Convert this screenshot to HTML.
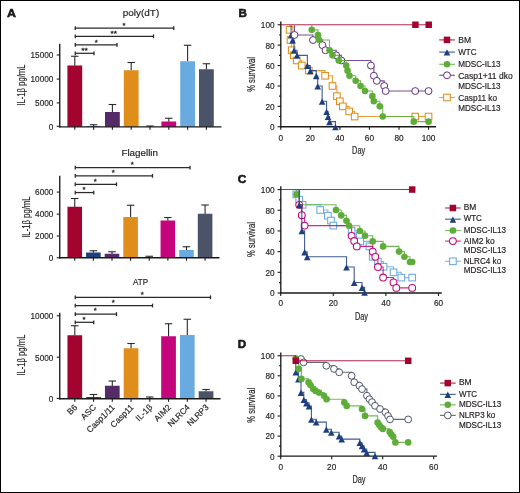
<!DOCTYPE html>
<html lang="en">
<head>
<meta charset="utf-8">
<title>Figure</title>
<style>
html,body{margin:0;padding:0;background:#fff;}
body{width:520px;height:493px;overflow:hidden;font-family:'Liberation Sans', Arial, sans-serif;}
svg{display:block;position:absolute;left:0;top:0;}
svg text{font-family:'Liberation Sans', Arial, sans-serif;fill:#231f20;}
</style>
</head>
<body>
<svg width="520" height="493" viewBox="0 0 520 493" role="img" aria-label="Figure panels A to D">
<rect x="0" y="0" width="520" height="493" fill="#fff"/>
<line x1="74.80" y1="56.25" x2="74.80" y2="65.80" stroke="#2a2a2c" stroke-width="1.1"/>
<line x1="71.05" y1="56.25" x2="78.55" y2="56.25" stroke="#2a2a2c" stroke-width="1.1"/>
<rect x="67.40" y="65.50" width="14.80" height="61.30" fill="#a3042f"/>
<line x1="93.60" y1="124.75" x2="93.60" y2="126.50" stroke="#2a2a2c" stroke-width="1.1"/>
<line x1="89.85" y1="124.75" x2="97.35" y2="124.75" stroke="#2a2a2c" stroke-width="1.1"/>
<rect x="86.20" y="126.20" width="14.80" height="0.60" fill="#1e3f7f"/>
<line x1="112.40" y1="104.50" x2="112.40" y2="112.30" stroke="#2a2a2c" stroke-width="1.1"/>
<line x1="108.65" y1="104.50" x2="116.15" y2="104.50" stroke="#2a2a2c" stroke-width="1.1"/>
<rect x="105.00" y="112.00" width="14.80" height="14.80" fill="#562a66"/>
<line x1="131.20" y1="62.50" x2="131.20" y2="70.55" stroke="#2a2a2c" stroke-width="1.1"/>
<line x1="127.45" y1="62.50" x2="134.95" y2="62.50" stroke="#2a2a2c" stroke-width="1.1"/>
<rect x="123.80" y="70.25" width="14.80" height="56.55" fill="#e08e1b"/>
<line x1="150.00" y1="126.00" x2="150.00" y2="127.10" stroke="#2a2a2c" stroke-width="1.1"/>
<line x1="146.25" y1="126.00" x2="153.75" y2="126.00" stroke="#2a2a2c" stroke-width="1.1"/>
<line x1="168.80" y1="118.25" x2="168.80" y2="121.80" stroke="#2a2a2c" stroke-width="1.1"/>
<line x1="165.05" y1="118.25" x2="172.55" y2="118.25" stroke="#2a2a2c" stroke-width="1.1"/>
<rect x="161.40" y="121.50" width="14.80" height="5.30" fill="#c5057b"/>
<line x1="187.60" y1="45.25" x2="187.60" y2="61.55" stroke="#2a2a2c" stroke-width="1.1"/>
<line x1="183.85" y1="45.25" x2="191.35" y2="45.25" stroke="#2a2a2c" stroke-width="1.1"/>
<rect x="180.20" y="61.25" width="14.80" height="65.55" fill="#69aae0"/>
<line x1="206.40" y1="63.75" x2="206.40" y2="69.55" stroke="#2a2a2c" stroke-width="1.1"/>
<line x1="202.65" y1="63.75" x2="210.15" y2="63.75" stroke="#2a2a2c" stroke-width="1.1"/>
<rect x="199.00" y="69.25" width="14.80" height="57.55" fill="#4b5368"/>
<line x1="59.75" y1="43.75" x2="59.75" y2="127.45" stroke="#1a1a1a" stroke-width="1.35"/>
<line x1="59.10" y1="126.80" x2="221.50" y2="126.80" stroke="#1a1a1a" stroke-width="1.3"/>
<line x1="74.80" y1="126.80" x2="74.80" y2="129.80" stroke="#1a1a1a" stroke-width="1.1"/>
<line x1="93.60" y1="126.80" x2="93.60" y2="129.80" stroke="#1a1a1a" stroke-width="1.1"/>
<line x1="112.40" y1="126.80" x2="112.40" y2="129.80" stroke="#1a1a1a" stroke-width="1.1"/>
<line x1="131.20" y1="126.80" x2="131.20" y2="129.80" stroke="#1a1a1a" stroke-width="1.1"/>
<line x1="150.00" y1="126.80" x2="150.00" y2="129.80" stroke="#1a1a1a" stroke-width="1.1"/>
<line x1="168.80" y1="126.80" x2="168.80" y2="129.80" stroke="#1a1a1a" stroke-width="1.1"/>
<line x1="187.60" y1="126.80" x2="187.60" y2="129.80" stroke="#1a1a1a" stroke-width="1.1"/>
<line x1="206.40" y1="126.80" x2="206.40" y2="129.80" stroke="#1a1a1a" stroke-width="1.1"/>
<line x1="56.75" y1="55.00" x2="59.75" y2="55.00" stroke="#1a1a1a" stroke-width="1.1"/>
<text x="53.45" y="58.35" font-size="9.5" text-anchor="end" textLength="23.00" lengthAdjust="spacingAndGlyphs" stroke="#231f20" stroke-width="0.18">15000</text>
<line x1="56.75" y1="79.10" x2="59.75" y2="79.10" stroke="#1a1a1a" stroke-width="1.1"/>
<text x="53.45" y="82.45" font-size="9.5" text-anchor="end" textLength="23.00" lengthAdjust="spacingAndGlyphs" stroke="#231f20" stroke-width="0.18">10000</text>
<line x1="56.75" y1="102.90" x2="59.75" y2="102.90" stroke="#1a1a1a" stroke-width="1.1"/>
<text x="53.45" y="106.25" font-size="9.5" text-anchor="end" textLength="18.40" lengthAdjust="spacingAndGlyphs" stroke="#231f20" stroke-width="0.18">5000</text>
<line x1="56.75" y1="126.30" x2="59.75" y2="126.30" stroke="#1a1a1a" stroke-width="1.1"/>
<text x="53.45" y="129.65" font-size="9.5" text-anchor="end" textLength="4.60" lengthAdjust="spacingAndGlyphs" stroke="#231f20" stroke-width="0.18">0</text>
<text x="141.00" y="15.90" font-size="9.7" text-anchor="middle" textLength="36.40" lengthAdjust="spacingAndGlyphs" stroke="#231f20" stroke-width="0.18">poly(dT)</text>
<text x="25.10" y="85.10" font-size="10" text-anchor="middle" textLength="41.20" lengthAdjust="spacingAndGlyphs" transform="rotate(-90 25.10 85.10)" stroke="#231f20" stroke-width="0.18">IL-1β pg/mL</text>
<line x1="75.25" y1="28.05" x2="173.75" y2="28.05" stroke="#2a2a2c" stroke-width="1.25"/>
<line x1="75.25" y1="26.15" x2="75.25" y2="29.95" stroke="#2a2a2c" stroke-width="1.3"/>
<line x1="173.75" y1="26.15" x2="173.75" y2="29.95" stroke="#2a2a2c" stroke-width="1.3"/>
<line x1="75.25" y1="36.30" x2="153.50" y2="36.30" stroke="#2a2a2c" stroke-width="1.25"/>
<line x1="75.25" y1="34.40" x2="75.25" y2="38.20" stroke="#2a2a2c" stroke-width="1.3"/>
<line x1="153.50" y1="34.40" x2="153.50" y2="38.20" stroke="#2a2a2c" stroke-width="1.3"/>
<line x1="75.25" y1="44.80" x2="117.00" y2="44.80" stroke="#2a2a2c" stroke-width="1.25"/>
<line x1="75.25" y1="42.90" x2="75.25" y2="46.70" stroke="#2a2a2c" stroke-width="1.3"/>
<line x1="117.00" y1="42.90" x2="117.00" y2="46.70" stroke="#2a2a2c" stroke-width="1.3"/>
<line x1="75.25" y1="53.30" x2="94.00" y2="53.30" stroke="#2a2a2c" stroke-width="1.25"/>
<line x1="75.25" y1="51.40" x2="75.25" y2="55.20" stroke="#2a2a2c" stroke-width="1.3"/>
<line x1="94.00" y1="51.40" x2="94.00" y2="55.20" stroke="#2a2a2c" stroke-width="1.3"/>
<text x="124.05" y="28.15" font-size="7.8" text-anchor="middle" stroke="#231f20" stroke-width="0.3">*</text>
<text x="113.80" y="36.40" font-size="7.8" text-anchor="middle" textLength="6.60" lengthAdjust="spacingAndGlyphs" stroke="#231f20" stroke-width="0.3">**</text>
<text x="96.30" y="44.65" font-size="7.8" text-anchor="middle" stroke="#231f20" stroke-width="0.3">*</text>
<text x="84.55" y="53.15" font-size="7.8" text-anchor="middle" textLength="6.60" lengthAdjust="spacingAndGlyphs" stroke="#231f20" stroke-width="0.3">**</text>
<line x1="74.75" y1="198.50" x2="74.75" y2="207.05" stroke="#2a2a2c" stroke-width="1.1"/>
<line x1="71.00" y1="198.50" x2="78.50" y2="198.50" stroke="#2a2a2c" stroke-width="1.1"/>
<rect x="67.45" y="206.75" width="14.60" height="51.00" fill="#a3042f"/>
<line x1="93.37" y1="250.75" x2="93.37" y2="252.80" stroke="#2a2a2c" stroke-width="1.1"/>
<line x1="89.62" y1="250.75" x2="97.12" y2="250.75" stroke="#2a2a2c" stroke-width="1.1"/>
<rect x="86.07" y="252.50" width="14.60" height="5.25" fill="#1e3f7f"/>
<line x1="111.99" y1="251.75" x2="111.99" y2="254.05" stroke="#2a2a2c" stroke-width="1.1"/>
<line x1="108.24" y1="251.75" x2="115.74" y2="251.75" stroke="#2a2a2c" stroke-width="1.1"/>
<rect x="104.69" y="253.75" width="14.60" height="4.00" fill="#562a66"/>
<line x1="130.61" y1="205.25" x2="130.61" y2="217.30" stroke="#2a2a2c" stroke-width="1.1"/>
<line x1="126.86" y1="205.25" x2="134.36" y2="205.25" stroke="#2a2a2c" stroke-width="1.1"/>
<rect x="123.31" y="217.00" width="14.60" height="40.75" fill="#e08e1b"/>
<line x1="149.23" y1="256.25" x2="149.23" y2="257.90" stroke="#2a2a2c" stroke-width="1.1"/>
<line x1="145.48" y1="256.25" x2="152.98" y2="256.25" stroke="#2a2a2c" stroke-width="1.1"/>
<line x1="167.85" y1="217.50" x2="167.85" y2="220.80" stroke="#2a2a2c" stroke-width="1.1"/>
<line x1="164.10" y1="217.50" x2="171.60" y2="217.50" stroke="#2a2a2c" stroke-width="1.1"/>
<rect x="160.55" y="220.50" width="14.60" height="37.25" fill="#c5057b"/>
<line x1="186.47" y1="246.75" x2="186.47" y2="250.30" stroke="#2a2a2c" stroke-width="1.1"/>
<line x1="182.72" y1="246.75" x2="190.22" y2="246.75" stroke="#2a2a2c" stroke-width="1.1"/>
<rect x="179.17" y="250.00" width="14.60" height="7.75" fill="#69aae0"/>
<line x1="205.09" y1="205.00" x2="205.09" y2="214.05" stroke="#2a2a2c" stroke-width="1.1"/>
<line x1="201.34" y1="205.00" x2="208.84" y2="205.00" stroke="#2a2a2c" stroke-width="1.1"/>
<rect x="197.79" y="213.75" width="14.60" height="44.00" fill="#4b5368"/>
<line x1="59.75" y1="175.75" x2="59.75" y2="258.40" stroke="#1a1a1a" stroke-width="1.35"/>
<line x1="59.10" y1="257.75" x2="219.50" y2="257.75" stroke="#1a1a1a" stroke-width="1.3"/>
<line x1="74.75" y1="257.75" x2="74.75" y2="260.75" stroke="#1a1a1a" stroke-width="1.1"/>
<line x1="93.37" y1="257.75" x2="93.37" y2="260.75" stroke="#1a1a1a" stroke-width="1.1"/>
<line x1="111.99" y1="257.75" x2="111.99" y2="260.75" stroke="#1a1a1a" stroke-width="1.1"/>
<line x1="130.61" y1="257.75" x2="130.61" y2="260.75" stroke="#1a1a1a" stroke-width="1.1"/>
<line x1="149.23" y1="257.75" x2="149.23" y2="260.75" stroke="#1a1a1a" stroke-width="1.1"/>
<line x1="167.85" y1="257.75" x2="167.85" y2="260.75" stroke="#1a1a1a" stroke-width="1.1"/>
<line x1="186.47" y1="257.75" x2="186.47" y2="260.75" stroke="#1a1a1a" stroke-width="1.1"/>
<line x1="205.09" y1="257.75" x2="205.09" y2="260.75" stroke="#1a1a1a" stroke-width="1.1"/>
<line x1="56.75" y1="192.10" x2="59.75" y2="192.10" stroke="#1a1a1a" stroke-width="1.1"/>
<text x="53.45" y="195.45" font-size="9.5" text-anchor="end" textLength="18.40" lengthAdjust="spacingAndGlyphs" stroke="#231f20" stroke-width="0.18">6000</text>
<line x1="56.75" y1="214.10" x2="59.75" y2="214.10" stroke="#1a1a1a" stroke-width="1.1"/>
<text x="53.45" y="217.45" font-size="9.5" text-anchor="end" textLength="18.40" lengthAdjust="spacingAndGlyphs" stroke="#231f20" stroke-width="0.18">4000</text>
<line x1="56.75" y1="236.00" x2="59.75" y2="236.00" stroke="#1a1a1a" stroke-width="1.1"/>
<text x="53.45" y="239.35" font-size="9.5" text-anchor="end" textLength="18.40" lengthAdjust="spacingAndGlyphs" stroke="#231f20" stroke-width="0.18">2000</text>
<line x1="56.75" y1="257.80" x2="59.75" y2="257.80" stroke="#1a1a1a" stroke-width="1.1"/>
<text x="53.45" y="261.15" font-size="9.5" text-anchor="end" textLength="4.60" lengthAdjust="spacingAndGlyphs" stroke="#231f20" stroke-width="0.18">0</text>
<text x="139.70" y="155.50" font-size="9.7" text-anchor="middle" textLength="36.60" lengthAdjust="spacingAndGlyphs" stroke="#231f20" stroke-width="0.18">Flagellin</text>
<text x="30.30" y="217.10" font-size="10" text-anchor="middle" textLength="41.40" lengthAdjust="spacingAndGlyphs" transform="rotate(-90 30.30 217.10)" stroke="#231f20" stroke-width="0.18">IL-1β pg/mL</text>
<line x1="75.25" y1="167.55" x2="190.00" y2="167.55" stroke="#2a2a2c" stroke-width="1.25"/>
<line x1="75.25" y1="165.65" x2="75.25" y2="169.45" stroke="#2a2a2c" stroke-width="1.3"/>
<line x1="190.00" y1="165.65" x2="190.00" y2="169.45" stroke="#2a2a2c" stroke-width="1.3"/>
<line x1="75.25" y1="175.80" x2="152.50" y2="175.80" stroke="#2a2a2c" stroke-width="1.25"/>
<line x1="75.25" y1="173.90" x2="75.25" y2="177.70" stroke="#2a2a2c" stroke-width="1.3"/>
<line x1="152.50" y1="173.90" x2="152.50" y2="177.70" stroke="#2a2a2c" stroke-width="1.3"/>
<line x1="75.25" y1="184.30" x2="116.50" y2="184.30" stroke="#2a2a2c" stroke-width="1.25"/>
<line x1="75.25" y1="182.40" x2="75.25" y2="186.20" stroke="#2a2a2c" stroke-width="1.3"/>
<line x1="116.50" y1="182.40" x2="116.50" y2="186.20" stroke="#2a2a2c" stroke-width="1.3"/>
<line x1="75.25" y1="192.55" x2="93.75" y2="192.55" stroke="#2a2a2c" stroke-width="1.25"/>
<line x1="75.25" y1="190.65" x2="75.25" y2="194.45" stroke="#2a2a2c" stroke-width="1.3"/>
<line x1="93.75" y1="190.65" x2="93.75" y2="194.45" stroke="#2a2a2c" stroke-width="1.3"/>
<text x="132.30" y="167.40" font-size="7.8" text-anchor="middle" stroke="#231f20" stroke-width="0.3">*</text>
<text x="113.30" y="175.40" font-size="7.8" text-anchor="middle" stroke="#231f20" stroke-width="0.3">*</text>
<text x="95.30" y="183.65" font-size="7.8" text-anchor="middle" stroke="#231f20" stroke-width="0.3">*</text>
<text x="84.05" y="192.15" font-size="7.8" text-anchor="middle" stroke="#231f20" stroke-width="0.3">*</text>
<line x1="74.80" y1="325.75" x2="74.80" y2="335.55" stroke="#2a2a2c" stroke-width="1.1"/>
<line x1="71.05" y1="325.75" x2="78.55" y2="325.75" stroke="#2a2a2c" stroke-width="1.1"/>
<rect x="67.45" y="335.25" width="14.70" height="63.50" fill="#a3042f"/>
<line x1="93.55" y1="394.50" x2="93.55" y2="397.30" stroke="#2a2a2c" stroke-width="1.1"/>
<line x1="89.80" y1="394.50" x2="97.30" y2="394.50" stroke="#2a2a2c" stroke-width="1.1"/>
<rect x="86.20" y="397.00" width="14.70" height="1.75" fill="#1e3f7f"/>
<line x1="112.30" y1="381.00" x2="112.30" y2="386.05" stroke="#2a2a2c" stroke-width="1.1"/>
<line x1="108.55" y1="381.00" x2="116.05" y2="381.00" stroke="#2a2a2c" stroke-width="1.1"/>
<rect x="104.95" y="385.75" width="14.70" height="13.00" fill="#562a66"/>
<line x1="131.05" y1="343.50" x2="131.05" y2="348.55" stroke="#2a2a2c" stroke-width="1.1"/>
<line x1="127.30" y1="343.50" x2="134.80" y2="343.50" stroke="#2a2a2c" stroke-width="1.1"/>
<rect x="123.70" y="348.25" width="14.70" height="50.50" fill="#e08e1b"/>
<line x1="149.80" y1="397.00" x2="149.80" y2="398.90" stroke="#2a2a2c" stroke-width="1.1"/>
<line x1="146.05" y1="397.00" x2="153.55" y2="397.00" stroke="#2a2a2c" stroke-width="1.1"/>
<line x1="168.55" y1="323.75" x2="168.55" y2="336.55" stroke="#2a2a2c" stroke-width="1.1"/>
<line x1="164.80" y1="323.75" x2="172.30" y2="323.75" stroke="#2a2a2c" stroke-width="1.1"/>
<rect x="161.20" y="336.25" width="14.70" height="62.50" fill="#c5057b"/>
<line x1="187.30" y1="319.25" x2="187.30" y2="335.30" stroke="#2a2a2c" stroke-width="1.1"/>
<line x1="183.55" y1="319.25" x2="191.05" y2="319.25" stroke="#2a2a2c" stroke-width="1.1"/>
<rect x="179.95" y="335.00" width="14.70" height="63.75" fill="#69aae0"/>
<line x1="206.05" y1="389.50" x2="206.05" y2="391.55" stroke="#2a2a2c" stroke-width="1.1"/>
<line x1="202.30" y1="389.50" x2="209.80" y2="389.50" stroke="#2a2a2c" stroke-width="1.1"/>
<rect x="198.70" y="391.25" width="14.70" height="7.50" fill="#4b5368"/>
<line x1="59.75" y1="312.80" x2="59.75" y2="399.40" stroke="#1a1a1a" stroke-width="1.35"/>
<line x1="59.10" y1="398.75" x2="220.50" y2="398.75" stroke="#1a1a1a" stroke-width="1.3"/>
<line x1="74.80" y1="398.75" x2="74.80" y2="401.75" stroke="#1a1a1a" stroke-width="1.1"/>
<line x1="93.55" y1="398.75" x2="93.55" y2="401.75" stroke="#1a1a1a" stroke-width="1.1"/>
<line x1="112.30" y1="398.75" x2="112.30" y2="401.75" stroke="#1a1a1a" stroke-width="1.1"/>
<line x1="131.05" y1="398.75" x2="131.05" y2="401.75" stroke="#1a1a1a" stroke-width="1.1"/>
<line x1="149.80" y1="398.75" x2="149.80" y2="401.75" stroke="#1a1a1a" stroke-width="1.1"/>
<line x1="168.55" y1="398.75" x2="168.55" y2="401.75" stroke="#1a1a1a" stroke-width="1.1"/>
<line x1="187.30" y1="398.75" x2="187.30" y2="401.75" stroke="#1a1a1a" stroke-width="1.1"/>
<line x1="206.05" y1="398.75" x2="206.05" y2="401.75" stroke="#1a1a1a" stroke-width="1.1"/>
<line x1="56.75" y1="315.80" x2="59.75" y2="315.80" stroke="#1a1a1a" stroke-width="1.1"/>
<text x="53.45" y="319.15" font-size="9.5" text-anchor="end" textLength="23.00" lengthAdjust="spacingAndGlyphs" stroke="#231f20" stroke-width="0.18">10000</text>
<line x1="56.75" y1="357.20" x2="59.75" y2="357.20" stroke="#1a1a1a" stroke-width="1.1"/>
<text x="53.45" y="360.55" font-size="9.5" text-anchor="end" textLength="18.40" lengthAdjust="spacingAndGlyphs" stroke="#231f20" stroke-width="0.18">5000</text>
<line x1="56.75" y1="398.40" x2="59.75" y2="398.40" stroke="#1a1a1a" stroke-width="1.1"/>
<text x="53.45" y="401.75" font-size="9.5" text-anchor="end" textLength="4.60" lengthAdjust="spacingAndGlyphs" stroke="#231f20" stroke-width="0.18">0</text>
<text x="140.60" y="284.90" font-size="9.4" text-anchor="middle" textLength="15.00" lengthAdjust="spacingAndGlyphs" stroke="#231f20" stroke-width="0.18">ATP</text>
<text x="25.20" y="355.10" font-size="10" text-anchor="middle" textLength="41.00" lengthAdjust="spacingAndGlyphs" transform="rotate(-90 25.20 355.10)" stroke="#231f20" stroke-width="0.18">IL-1β pg/mL</text>
<line x1="75.25" y1="297.30" x2="210.50" y2="297.30" stroke="#2a2a2c" stroke-width="1.25"/>
<line x1="75.25" y1="295.40" x2="75.25" y2="299.20" stroke="#2a2a2c" stroke-width="1.3"/>
<line x1="210.50" y1="295.40" x2="210.50" y2="299.20" stroke="#2a2a2c" stroke-width="1.3"/>
<line x1="75.25" y1="305.55" x2="152.50" y2="305.55" stroke="#2a2a2c" stroke-width="1.25"/>
<line x1="75.25" y1="303.65" x2="75.25" y2="307.45" stroke="#2a2a2c" stroke-width="1.3"/>
<line x1="152.50" y1="303.65" x2="152.50" y2="307.45" stroke="#2a2a2c" stroke-width="1.3"/>
<line x1="75.25" y1="314.05" x2="116.50" y2="314.05" stroke="#2a2a2c" stroke-width="1.25"/>
<line x1="75.25" y1="312.15" x2="75.25" y2="315.95" stroke="#2a2a2c" stroke-width="1.3"/>
<line x1="116.50" y1="312.15" x2="116.50" y2="315.95" stroke="#2a2a2c" stroke-width="1.3"/>
<line x1="75.25" y1="322.30" x2="93.75" y2="322.30" stroke="#2a2a2c" stroke-width="1.25"/>
<line x1="75.25" y1="320.40" x2="75.25" y2="324.20" stroke="#2a2a2c" stroke-width="1.3"/>
<line x1="93.75" y1="320.40" x2="93.75" y2="324.20" stroke="#2a2a2c" stroke-width="1.3"/>
<text x="142.30" y="296.90" font-size="7.8" text-anchor="middle" stroke="#231f20" stroke-width="0.3">*</text>
<text x="113.30" y="305.15" font-size="7.8" text-anchor="middle" stroke="#231f20" stroke-width="0.3">*</text>
<text x="95.30" y="313.40" font-size="7.8" text-anchor="middle" stroke="#231f20" stroke-width="0.3">*</text>
<text x="84.05" y="321.90" font-size="7.8" text-anchor="middle" stroke="#231f20" stroke-width="0.3">*</text>
<text x="77.90" y="407.90" font-size="8.5" text-anchor="end" transform="rotate(-45 77.90 407.90)" stroke="#231f20" stroke-width="0.18">B6</text>
<text x="96.65" y="407.90" font-size="8.5" text-anchor="end" transform="rotate(-45 96.65 407.90)" stroke="#231f20" stroke-width="0.18">ASC</text>
<text x="115.40" y="407.90" font-size="8.5" text-anchor="end" transform="rotate(-45 115.40 407.90)" stroke="#231f20" stroke-width="0.18">Casp1/11</text>
<text x="134.15" y="407.90" font-size="8.5" text-anchor="end" transform="rotate(-45 134.15 407.90)" stroke="#231f20" stroke-width="0.18">Casp11</text>
<text x="152.90" y="407.90" font-size="8.5" text-anchor="end" transform="rotate(-45 152.90 407.90)" stroke="#231f20" stroke-width="0.18">IL-1β</text>
<text x="171.65" y="407.90" font-size="8.5" text-anchor="end" transform="rotate(-45 171.65 407.90)" stroke="#231f20" stroke-width="0.18">AIM2</text>
<text x="190.40" y="407.90" font-size="8.5" text-anchor="end" textLength="27.20" lengthAdjust="spacingAndGlyphs" transform="rotate(-45 190.40 407.90)" stroke="#231f20" stroke-width="0.18">NLRC4</text>
<text x="209.15" y="407.90" font-size="8.5" text-anchor="end" textLength="26.40" lengthAdjust="spacingAndGlyphs" transform="rotate(-45 209.15 407.90)" stroke="#231f20" stroke-width="0.18">NLRP3</text>
<line x1="280.80" y1="21.45" x2="280.80" y2="127.40" stroke="#1a1a1a" stroke-width="1.35"/>
<line x1="280.15" y1="126.75" x2="436.00" y2="126.75" stroke="#1a1a1a" stroke-width="1.3"/>
<line x1="277.60" y1="24.75" x2="280.80" y2="24.75" stroke="#1a1a1a" stroke-width="1.1"/>
<text x="274.60" y="28.10" font-size="9.5" text-anchor="end" textLength="13.80" lengthAdjust="spacingAndGlyphs" stroke="#231f20" stroke-width="0.18">100</text>
<line x1="279.00" y1="34.95" x2="280.80" y2="34.95" stroke="#1a1a1a" stroke-width="1.1"/>
<line x1="277.60" y1="45.15" x2="280.80" y2="45.15" stroke="#1a1a1a" stroke-width="1.1"/>
<text x="274.60" y="48.50" font-size="9.5" text-anchor="end" textLength="9.20" lengthAdjust="spacingAndGlyphs" stroke="#231f20" stroke-width="0.18">80</text>
<line x1="279.00" y1="55.35" x2="280.80" y2="55.35" stroke="#1a1a1a" stroke-width="1.1"/>
<line x1="277.60" y1="65.55" x2="280.80" y2="65.55" stroke="#1a1a1a" stroke-width="1.1"/>
<text x="274.60" y="68.90" font-size="9.5" text-anchor="end" textLength="9.20" lengthAdjust="spacingAndGlyphs" stroke="#231f20" stroke-width="0.18">60</text>
<line x1="279.00" y1="75.75" x2="280.80" y2="75.75" stroke="#1a1a1a" stroke-width="1.1"/>
<line x1="277.60" y1="85.95" x2="280.80" y2="85.95" stroke="#1a1a1a" stroke-width="1.1"/>
<text x="274.60" y="89.30" font-size="9.5" text-anchor="end" textLength="9.20" lengthAdjust="spacingAndGlyphs" stroke="#231f20" stroke-width="0.18">40</text>
<line x1="279.00" y1="96.15" x2="280.80" y2="96.15" stroke="#1a1a1a" stroke-width="1.1"/>
<line x1="277.60" y1="106.35" x2="280.80" y2="106.35" stroke="#1a1a1a" stroke-width="1.1"/>
<text x="274.60" y="109.70" font-size="9.5" text-anchor="end" textLength="9.20" lengthAdjust="spacingAndGlyphs" stroke="#231f20" stroke-width="0.18">20</text>
<line x1="279.00" y1="116.55" x2="280.80" y2="116.55" stroke="#1a1a1a" stroke-width="1.1"/>
<line x1="277.60" y1="126.75" x2="280.80" y2="126.75" stroke="#1a1a1a" stroke-width="1.1"/>
<text x="274.60" y="130.10" font-size="9.5" text-anchor="end" textLength="4.60" lengthAdjust="spacingAndGlyphs" stroke="#231f20" stroke-width="0.18">0</text>
<line x1="280.75" y1="126.75" x2="280.75" y2="129.75" stroke="#1a1a1a" stroke-width="1.1"/>
<text x="280.75" y="141.15" font-size="9.5" text-anchor="middle" textLength="4.60" lengthAdjust="spacingAndGlyphs" stroke="#231f20" stroke-width="0.18">0</text>
<line x1="310.31" y1="126.75" x2="310.31" y2="129.75" stroke="#1a1a1a" stroke-width="1.1"/>
<text x="310.31" y="141.15" font-size="9.5" text-anchor="middle" textLength="9.20" lengthAdjust="spacingAndGlyphs" stroke="#231f20" stroke-width="0.18">20</text>
<line x1="339.87" y1="126.75" x2="339.87" y2="129.75" stroke="#1a1a1a" stroke-width="1.1"/>
<text x="339.87" y="141.15" font-size="9.5" text-anchor="middle" textLength="9.20" lengthAdjust="spacingAndGlyphs" stroke="#231f20" stroke-width="0.18">40</text>
<line x1="369.43" y1="126.75" x2="369.43" y2="129.75" stroke="#1a1a1a" stroke-width="1.1"/>
<text x="369.43" y="141.15" font-size="9.5" text-anchor="middle" textLength="9.20" lengthAdjust="spacingAndGlyphs" stroke="#231f20" stroke-width="0.18">60</text>
<line x1="398.99" y1="126.75" x2="398.99" y2="129.75" stroke="#1a1a1a" stroke-width="1.1"/>
<text x="398.99" y="141.15" font-size="9.5" text-anchor="middle" textLength="9.20" lengthAdjust="spacingAndGlyphs" stroke="#231f20" stroke-width="0.18">80</text>
<line x1="428.55" y1="126.75" x2="428.55" y2="129.75" stroke="#1a1a1a" stroke-width="1.1"/>
<text x="428.55" y="141.15" font-size="9.5" text-anchor="middle" textLength="13.80" lengthAdjust="spacingAndGlyphs" stroke="#231f20" stroke-width="0.18">100</text>
<text x="255.00" y="74.40" font-size="10" text-anchor="middle" textLength="34.90" lengthAdjust="spacingAndGlyphs" transform="rotate(-90 255.00 74.40)" stroke="#231f20" stroke-width="0.18">% survival</text>
<text x="358.65" y="154.00" font-size="10" text-anchor="middle" textLength="13.10" lengthAdjust="spacingAndGlyphs" stroke="#231f20" stroke-width="0.18">Day</text>
<path d="M289.62 25.15H289.62V29.85H290.50V40.05H291.69V50.25H293.76V55.35H296.71V60.45H301.74V65.55H308.83V70.65H325.09V75.75H332.48V85.95H336.91V96.15H339.87V101.25H342.83V106.35H349.18V111.45H354.65V116.55H415.25V116.55H428.55V116.55" fill="none" stroke="#e08e1b" stroke-width="1.1" stroke-opacity="0.85"/>
<rect x="286.32" y="26.55" width="6.6" height="6.6" fill="#fff" stroke="#e08e1b" stroke-width="1.05"/>
<rect x="287.20" y="36.75" width="6.6" height="6.6" fill="#fff" stroke="#e08e1b" stroke-width="1.05"/>
<rect x="288.39" y="46.95" width="6.6" height="6.6" fill="#fff" stroke="#e08e1b" stroke-width="1.05"/>
<rect x="290.46" y="52.05" width="6.6" height="6.6" fill="#fff" stroke="#e08e1b" stroke-width="1.05"/>
<rect x="293.41" y="57.15" width="6.6" height="6.6" fill="#fff" stroke="#e08e1b" stroke-width="1.05"/>
<rect x="298.44" y="62.25" width="6.6" height="6.6" fill="#fff" stroke="#e08e1b" stroke-width="1.05"/>
<rect x="305.53" y="67.35" width="6.6" height="6.6" fill="#fff" stroke="#e08e1b" stroke-width="1.05"/>
<rect x="321.79" y="72.45" width="6.6" height="6.6" fill="#fff" stroke="#e08e1b" stroke-width="1.05"/>
<rect x="329.18" y="82.65" width="6.6" height="6.6" fill="#fff" stroke="#e08e1b" stroke-width="1.05"/>
<rect x="333.61" y="92.85" width="6.6" height="6.6" fill="#fff" stroke="#e08e1b" stroke-width="1.05"/>
<rect x="336.57" y="97.95" width="6.6" height="6.6" fill="#fff" stroke="#e08e1b" stroke-width="1.05"/>
<rect x="339.53" y="103.05" width="6.6" height="6.6" fill="#fff" stroke="#e08e1b" stroke-width="1.05"/>
<rect x="345.88" y="108.15" width="6.6" height="6.6" fill="#fff" stroke="#e08e1b" stroke-width="1.05"/>
<rect x="351.35" y="113.25" width="6.6" height="6.6" fill="#fff" stroke="#e08e1b" stroke-width="1.05"/>
<rect x="411.95" y="113.25" width="6.6" height="6.6" fill="#fff" stroke="#e08e1b" stroke-width="1.05"/>
<rect x="425.25" y="113.25" width="6.6" height="6.6" fill="#fff" stroke="#e08e1b" stroke-width="1.05"/>
<path d="M291.10 25.15H291.10V34.95H292.57V40.05H294.05V50.25H297.01V55.35H307.35V65.55H310.31V70.65H316.22V75.75H317.70V85.95H322.13V101.25H326.57V111.45H328.05V116.55H329.52V121.65H335.44V126.75" fill="none" stroke="#1e3f7f" stroke-width="1.1" stroke-opacity="0.85"/>
<path d="M291.10 32.15L294.40 38.45L287.80 38.45Z" fill="#1e3f7f"/>
<path d="M292.57 37.25L295.87 43.55L289.27 43.55Z" fill="#1e3f7f"/>
<path d="M294.05 47.45L297.35 53.75L290.75 53.75Z" fill="#1e3f7f"/>
<path d="M297.01 52.55L300.31 58.85L293.71 58.85Z" fill="#1e3f7f"/>
<path d="M307.35 62.75L310.65 69.05L304.05 69.05Z" fill="#1e3f7f"/>
<path d="M310.31 67.85L313.61 74.15L307.01 74.15Z" fill="#1e3f7f"/>
<path d="M316.22 72.95L319.52 79.25L312.92 79.25Z" fill="#1e3f7f"/>
<path d="M317.70 83.15L321.00 89.45L314.40 89.45Z" fill="#1e3f7f"/>
<path d="M322.13 98.45L325.43 104.75L318.83 104.75Z" fill="#1e3f7f"/>
<path d="M326.57 108.65L329.87 114.95L323.27 114.95Z" fill="#1e3f7f"/>
<path d="M328.05 113.75L331.35 120.05L324.75 120.05Z" fill="#1e3f7f"/>
<path d="M329.52 118.85L332.82 125.15L326.22 125.15Z" fill="#1e3f7f"/>
<path d="M335.44 123.95L338.74 130.25L332.14 130.25Z" fill="#1e3f7f"/>
<path d="M294.50 25.15H294.50V34.95H312.97V40.05H322.43V45.15H325.53V50.25H336.18V55.35H341.35V60.45H370.91V65.55H373.86V75.75H376.82V80.85H384.21V85.95H385.69V91.05H415.25V91.05H428.55V91.05" fill="none" stroke="#5f3080" stroke-width="1.1" stroke-opacity="0.85"/>
<circle cx="294.50" cy="34.95" r="3.45" fill="#fff" stroke="#5f3080" stroke-width="1.0"/>
<circle cx="312.97" cy="40.05" r="3.45" fill="#fff" stroke="#5f3080" stroke-width="1.0"/>
<circle cx="322.43" cy="45.15" r="3.45" fill="#fff" stroke="#5f3080" stroke-width="1.0"/>
<circle cx="325.53" cy="50.25" r="3.45" fill="#fff" stroke="#5f3080" stroke-width="1.0"/>
<circle cx="336.18" cy="55.35" r="3.45" fill="#fff" stroke="#5f3080" stroke-width="1.0"/>
<circle cx="341.35" cy="60.45" r="3.45" fill="#fff" stroke="#5f3080" stroke-width="1.0"/>
<circle cx="370.91" cy="65.55" r="3.45" fill="#fff" stroke="#5f3080" stroke-width="1.0"/>
<circle cx="373.86" cy="75.75" r="3.45" fill="#fff" stroke="#5f3080" stroke-width="1.0"/>
<circle cx="376.82" cy="80.85" r="3.45" fill="#fff" stroke="#5f3080" stroke-width="1.0"/>
<circle cx="384.21" cy="85.95" r="3.45" fill="#fff" stroke="#5f3080" stroke-width="1.0"/>
<circle cx="385.69" cy="91.05" r="3.45" fill="#fff" stroke="#5f3080" stroke-width="1.0"/>
<circle cx="415.25" cy="91.05" r="3.45" fill="#fff" stroke="#5f3080" stroke-width="1.0"/>
<circle cx="428.55" cy="91.05" r="3.45" fill="#fff" stroke="#5f3080" stroke-width="1.0"/>
<path d="M311.79 25.15H311.79V29.85H318.00V34.95H319.18V40.05H329.52V50.25H332.48V55.35H338.69V60.45H346.23V65.55H347.56V70.65H349.48V75.75H355.68V80.85H360.56V85.95H365.00V91.05H372.39V96.15H373.86V101.25H379.78V106.35H382.73V116.55H413.77V121.65H428.55V121.65" fill="none" stroke="#5dad38" stroke-width="1.1" stroke-opacity="0.85"/>
<circle cx="311.79" cy="29.85" r="3.3" fill="#5dad38"/>
<circle cx="318.00" cy="34.95" r="3.3" fill="#5dad38"/>
<circle cx="319.18" cy="40.05" r="3.3" fill="#5dad38"/>
<circle cx="329.52" cy="50.25" r="3.3" fill="#5dad38"/>
<circle cx="332.48" cy="55.35" r="3.3" fill="#5dad38"/>
<circle cx="338.69" cy="60.45" r="3.3" fill="#5dad38"/>
<circle cx="346.23" cy="65.55" r="3.3" fill="#5dad38"/>
<circle cx="347.56" cy="70.65" r="3.3" fill="#5dad38"/>
<circle cx="349.48" cy="75.75" r="3.3" fill="#5dad38"/>
<circle cx="355.68" cy="80.85" r="3.3" fill="#5dad38"/>
<circle cx="360.56" cy="85.95" r="3.3" fill="#5dad38"/>
<circle cx="365.00" cy="91.05" r="3.3" fill="#5dad38"/>
<circle cx="372.39" cy="96.15" r="3.3" fill="#5dad38"/>
<circle cx="373.86" cy="101.25" r="3.3" fill="#5dad38"/>
<circle cx="379.78" cy="106.35" r="3.3" fill="#5dad38"/>
<circle cx="382.73" cy="116.55" r="3.3" fill="#5dad38"/>
<circle cx="413.77" cy="121.65" r="3.3" fill="#5dad38"/>
<circle cx="428.55" cy="121.65" r="3.3" fill="#5dad38"/>
<path d="M280.80 24.75H415.40V24.75H428.70V24.75" fill="none" stroke="#a3042f" stroke-width="1.1" stroke-opacity="0.85"/>
<rect x="412.15" y="21.50" width="6.5" height="6.5" fill="#a3042f"/>
<rect x="425.45" y="21.50" width="6.5" height="6.5" fill="#a3042f"/>
<line x1="439.20" y1="39.90" x2="454.90" y2="39.90" stroke="#a3042f" stroke-width="1.2" stroke-opacity="0.8"/>
<rect x="443.75" y="36.65" width="6.5" height="6.5" fill="#a3042f"/>
<text x="458.20" y="42.75" font-size="8.2" text-anchor="start" textLength="12.80" lengthAdjust="spacingAndGlyphs" stroke="#231f20" stroke-width="0.18">BM</text>
<line x1="439.20" y1="52.10" x2="454.90" y2="52.10" stroke="#1e3f7f" stroke-width="1.2" stroke-opacity="0.8"/>
<path d="M447.00 49.30L450.30 55.60L443.70 55.60Z" fill="#1e3f7f"/>
<text x="458.20" y="54.85" font-size="8.2" text-anchor="start" textLength="18.50" lengthAdjust="spacingAndGlyphs" stroke="#231f20" stroke-width="0.18">WTC</text>
<line x1="439.20" y1="64.30" x2="454.90" y2="64.30" stroke="#5dad38" stroke-width="1.2" stroke-opacity="0.8"/>
<circle cx="447.00" cy="64.30" r="3.3" fill="#5dad38"/>
<text x="458.20" y="66.65" font-size="8.2" text-anchor="start" textLength="42.40" lengthAdjust="spacingAndGlyphs" stroke="#231f20" stroke-width="0.18">MDSC-IL13</text>
<line x1="439.20" y1="75.30" x2="454.90" y2="75.30" stroke="#5f3080" stroke-width="1.2" stroke-opacity="0.8"/>
<circle cx="447.00" cy="75.30" r="3.45" fill="#fff" stroke="#5f3080" stroke-width="1.0"/>
<text x="458.20" y="79.25" font-size="8.2" text-anchor="start" textLength="54.50" lengthAdjust="spacingAndGlyphs" stroke="#231f20" stroke-width="0.18">Casp1+11 dko</text>
<text x="458.20" y="88.85" font-size="8.2" text-anchor="start" textLength="42.40" lengthAdjust="spacingAndGlyphs" stroke="#231f20" stroke-width="0.18">MDSC-IL13</text>
<line x1="439.20" y1="97.50" x2="454.90" y2="97.50" stroke="#e08e1b" stroke-width="1.2" stroke-opacity="0.8"/>
<rect x="443.70" y="94.20" width="6.6" height="6.6" fill="#fff" stroke="#e08e1b" stroke-width="1.05"/>
<text x="458.20" y="101.15" font-size="8.2" text-anchor="start" textLength="38.90" lengthAdjust="spacingAndGlyphs" stroke="#231f20" stroke-width="0.18">Casp11 ko</text>
<text x="458.20" y="110.95" font-size="8.2" text-anchor="start" textLength="42.40" lengthAdjust="spacingAndGlyphs" stroke="#231f20" stroke-width="0.18">MDSC-IL13</text>
<line x1="280.80" y1="186.25" x2="280.80" y2="293.65" stroke="#1a1a1a" stroke-width="1.35"/>
<line x1="280.15" y1="293.00" x2="441.80" y2="293.00" stroke="#1a1a1a" stroke-width="1.3"/>
<line x1="277.60" y1="189.55" x2="280.80" y2="189.55" stroke="#1a1a1a" stroke-width="1.1"/>
<text x="274.60" y="192.90" font-size="9.5" text-anchor="end" textLength="13.80" lengthAdjust="spacingAndGlyphs" stroke="#231f20" stroke-width="0.18">100</text>
<line x1="279.00" y1="199.90" x2="280.80" y2="199.90" stroke="#1a1a1a" stroke-width="1.1"/>
<line x1="277.60" y1="210.24" x2="280.80" y2="210.24" stroke="#1a1a1a" stroke-width="1.1"/>
<text x="274.60" y="213.59" font-size="9.5" text-anchor="end" textLength="9.20" lengthAdjust="spacingAndGlyphs" stroke="#231f20" stroke-width="0.18">80</text>
<line x1="279.00" y1="220.59" x2="280.80" y2="220.59" stroke="#1a1a1a" stroke-width="1.1"/>
<line x1="277.60" y1="230.93" x2="280.80" y2="230.93" stroke="#1a1a1a" stroke-width="1.1"/>
<text x="274.60" y="234.28" font-size="9.5" text-anchor="end" textLength="9.20" lengthAdjust="spacingAndGlyphs" stroke="#231f20" stroke-width="0.18">60</text>
<line x1="279.00" y1="241.28" x2="280.80" y2="241.28" stroke="#1a1a1a" stroke-width="1.1"/>
<line x1="277.60" y1="251.62" x2="280.80" y2="251.62" stroke="#1a1a1a" stroke-width="1.1"/>
<text x="274.60" y="254.97" font-size="9.5" text-anchor="end" textLength="9.20" lengthAdjust="spacingAndGlyphs" stroke="#231f20" stroke-width="0.18">40</text>
<line x1="279.00" y1="261.97" x2="280.80" y2="261.97" stroke="#1a1a1a" stroke-width="1.1"/>
<line x1="277.60" y1="272.31" x2="280.80" y2="272.31" stroke="#1a1a1a" stroke-width="1.1"/>
<text x="274.60" y="275.66" font-size="9.5" text-anchor="end" textLength="9.20" lengthAdjust="spacingAndGlyphs" stroke="#231f20" stroke-width="0.18">20</text>
<line x1="279.00" y1="282.65" x2="280.80" y2="282.65" stroke="#1a1a1a" stroke-width="1.1"/>
<line x1="277.60" y1="293.00" x2="280.80" y2="293.00" stroke="#1a1a1a" stroke-width="1.1"/>
<text x="274.60" y="296.35" font-size="9.5" text-anchor="end" textLength="4.60" lengthAdjust="spacingAndGlyphs" stroke="#231f20" stroke-width="0.18">0</text>
<line x1="280.70" y1="293.00" x2="280.70" y2="296.00" stroke="#1a1a1a" stroke-width="1.1"/>
<text x="280.70" y="306.40" font-size="9.5" text-anchor="middle" textLength="4.60" lengthAdjust="spacingAndGlyphs" stroke="#231f20" stroke-width="0.18">0</text>
<line x1="333.30" y1="293.00" x2="333.30" y2="296.00" stroke="#1a1a1a" stroke-width="1.1"/>
<text x="333.30" y="306.40" font-size="9.5" text-anchor="middle" textLength="9.20" lengthAdjust="spacingAndGlyphs" stroke="#231f20" stroke-width="0.18">20</text>
<line x1="385.90" y1="293.00" x2="385.90" y2="296.00" stroke="#1a1a1a" stroke-width="1.1"/>
<text x="385.90" y="306.40" font-size="9.5" text-anchor="middle" textLength="9.20" lengthAdjust="spacingAndGlyphs" stroke="#231f20" stroke-width="0.18">40</text>
<line x1="438.50" y1="293.00" x2="438.50" y2="296.00" stroke="#1a1a1a" stroke-width="1.1"/>
<text x="438.50" y="306.40" font-size="9.5" text-anchor="middle" textLength="9.20" lengthAdjust="spacingAndGlyphs" stroke="#231f20" stroke-width="0.18">60</text>
<text x="255.00" y="239.60" font-size="10" text-anchor="middle" textLength="34.90" lengthAdjust="spacingAndGlyphs" transform="rotate(-90 255.00 239.60)" stroke="#231f20" stroke-width="0.18">% survival</text>
<text x="361.50" y="320.20" font-size="10" text-anchor="middle" textLength="13.10" lengthAdjust="spacingAndGlyphs" stroke="#231f20" stroke-width="0.18">Day</text>
<path d="M296.30 189.95H296.30V194.40H299.20V199.60H302.60V204.80H320.20V210.00H327.90V215.70H331.00V220.60H333.30V225.60H351.60V230.70H359.80V235.80H360.30V241.40H369.40V246.40H372.70V256.80H377.90V261.60H383.60V266.80H393.50V272.30H401.30V277.60H412.20V277.60" fill="none" stroke="#69aae0" stroke-width="1.1" stroke-opacity="0.85"/>
<rect x="293.00" y="191.10" width="6.6" height="6.6" fill="#fff" stroke="#69aae0" stroke-width="1.05"/>
<rect x="295.90" y="196.30" width="6.6" height="6.6" fill="#fff" stroke="#69aae0" stroke-width="1.05"/>
<rect x="299.30" y="201.50" width="6.6" height="6.6" fill="#fff" stroke="#69aae0" stroke-width="1.05"/>
<rect x="316.90" y="206.70" width="6.6" height="6.6" fill="#fff" stroke="#69aae0" stroke-width="1.05"/>
<rect x="324.60" y="212.40" width="6.6" height="6.6" fill="#fff" stroke="#69aae0" stroke-width="1.05"/>
<rect x="327.70" y="217.30" width="6.6" height="6.6" fill="#fff" stroke="#69aae0" stroke-width="1.05"/>
<rect x="330.00" y="222.30" width="6.6" height="6.6" fill="#fff" stroke="#69aae0" stroke-width="1.05"/>
<rect x="348.30" y="227.40" width="6.6" height="6.6" fill="#fff" stroke="#69aae0" stroke-width="1.05"/>
<rect x="356.50" y="232.50" width="6.6" height="6.6" fill="#fff" stroke="#69aae0" stroke-width="1.05"/>
<rect x="357.00" y="238.10" width="6.6" height="6.6" fill="#fff" stroke="#69aae0" stroke-width="1.05"/>
<rect x="366.10" y="243.10" width="6.6" height="6.6" fill="#fff" stroke="#69aae0" stroke-width="1.05"/>
<rect x="369.40" y="253.50" width="6.6" height="6.6" fill="#fff" stroke="#69aae0" stroke-width="1.05"/>
<rect x="374.60" y="258.30" width="6.6" height="6.6" fill="#fff" stroke="#69aae0" stroke-width="1.05"/>
<rect x="380.30" y="263.50" width="6.6" height="6.6" fill="#fff" stroke="#69aae0" stroke-width="1.05"/>
<rect x="390.20" y="269.00" width="6.6" height="6.6" fill="#fff" stroke="#69aae0" stroke-width="1.05"/>
<rect x="398.00" y="274.30" width="6.6" height="6.6" fill="#fff" stroke="#69aae0" stroke-width="1.05"/>
<rect x="408.90" y="274.30" width="6.6" height="6.6" fill="#fff" stroke="#69aae0" stroke-width="1.05"/>
<path d="M299.20 189.95H299.20V204.80H301.80V215.20H304.60V225.60H351.60V235.80H354.20V241.00H356.80V246.40H372.70V251.60H375.30V256.80H377.90V267.00H383.10V277.50H393.50V282.40H396.30V287.90H412.20V287.90" fill="none" stroke="#c5057b" stroke-width="1.1" stroke-opacity="0.85"/>
<circle cx="299.20" cy="204.80" r="3.4" fill="#fff" stroke="#c5057b" stroke-width="1.05"/>
<circle cx="301.80" cy="215.20" r="3.4" fill="#fff" stroke="#c5057b" stroke-width="1.05"/>
<circle cx="304.60" cy="225.60" r="3.4" fill="#fff" stroke="#c5057b" stroke-width="1.05"/>
<circle cx="351.60" cy="235.80" r="3.4" fill="#fff" stroke="#c5057b" stroke-width="1.05"/>
<circle cx="354.20" cy="241.00" r="3.4" fill="#fff" stroke="#c5057b" stroke-width="1.05"/>
<circle cx="356.80" cy="246.40" r="3.4" fill="#fff" stroke="#c5057b" stroke-width="1.05"/>
<circle cx="372.70" cy="251.60" r="3.4" fill="#fff" stroke="#c5057b" stroke-width="1.05"/>
<circle cx="375.30" cy="256.80" r="3.4" fill="#fff" stroke="#c5057b" stroke-width="1.05"/>
<circle cx="377.90" cy="267.00" r="3.4" fill="#fff" stroke="#c5057b" stroke-width="1.05"/>
<circle cx="383.10" cy="277.50" r="3.4" fill="#fff" stroke="#c5057b" stroke-width="1.05"/>
<circle cx="393.50" cy="282.40" r="3.4" fill="#fff" stroke="#c5057b" stroke-width="1.05"/>
<circle cx="396.30" cy="287.90" r="3.4" fill="#fff" stroke="#c5057b" stroke-width="1.05"/>
<circle cx="412.20" cy="287.90" r="3.4" fill="#fff" stroke="#c5057b" stroke-width="1.05"/>
<path d="M296.50 189.95H296.50V194.60H299.40V204.80H336.00V210.00H341.20V215.40H346.40V220.80H349.00V225.80H359.80V231.00H365.00V235.80H372.70V241.40H383.10V246.40H399.00V251.60H404.40V256.80H410.00V262.00H412.20V262.00" fill="none" stroke="#5dad38" stroke-width="1.1" stroke-opacity="0.85"/>
<circle cx="296.50" cy="194.60" r="3.3" fill="#5dad38"/>
<circle cx="336.00" cy="210.00" r="3.3" fill="#5dad38"/>
<circle cx="341.20" cy="215.40" r="3.3" fill="#5dad38"/>
<circle cx="346.40" cy="220.80" r="3.3" fill="#5dad38"/>
<circle cx="349.00" cy="225.80" r="3.3" fill="#5dad38"/>
<circle cx="359.80" cy="231.00" r="3.3" fill="#5dad38"/>
<circle cx="365.00" cy="235.80" r="3.3" fill="#5dad38"/>
<circle cx="372.70" cy="241.40" r="3.3" fill="#5dad38"/>
<circle cx="383.10" cy="246.40" r="3.3" fill="#5dad38"/>
<circle cx="399.00" cy="251.60" r="3.3" fill="#5dad38"/>
<circle cx="404.40" cy="256.80" r="3.3" fill="#5dad38"/>
<circle cx="410.00" cy="262.00" r="3.3" fill="#5dad38"/>
<circle cx="412.20" cy="262.00" r="3.3" fill="#5dad38"/>
<path d="M299.20 189.95H299.20V204.70H301.80V230.80H304.60V251.90H307.20V256.70H346.50V267.00H354.20V282.50H362.00V287.40H364.60V292.30" fill="none" stroke="#1e3f7f" stroke-width="1.1" stroke-opacity="0.85"/>
<path d="M299.20 201.90L302.50 208.20L295.90 208.20Z" fill="#1e3f7f"/>
<path d="M301.80 228.00L305.10 234.30L298.50 234.30Z" fill="#1e3f7f"/>
<path d="M304.60 249.10L307.90 255.40L301.30 255.40Z" fill="#1e3f7f"/>
<path d="M307.20 253.90L310.50 260.20L303.90 260.20Z" fill="#1e3f7f"/>
<path d="M346.50 264.20L349.80 270.50L343.20 270.50Z" fill="#1e3f7f"/>
<path d="M354.20 279.70L357.50 286.00L350.90 286.00Z" fill="#1e3f7f"/>
<path d="M362.00 284.60L365.30 290.90L358.70 290.90Z" fill="#1e3f7f"/>
<path d="M364.60 289.50L367.90 295.80L361.30 295.80Z" fill="#1e3f7f"/>
<path d="M280.80 189.55H412.20V189.55" fill="none" stroke="#a3042f" stroke-width="1.1" stroke-opacity="0.85"/>
<rect x="408.95" y="186.30" width="6.5" height="6.5" fill="#a3042f"/>
<line x1="445.10" y1="208.00" x2="460.80" y2="208.00" stroke="#a3042f" stroke-width="1.2" stroke-opacity="0.8"/>
<rect x="449.65" y="204.75" width="6.5" height="6.5" fill="#a3042f"/>
<text x="463.70" y="210.15" font-size="8.2" text-anchor="start" textLength="12.60" lengthAdjust="spacingAndGlyphs" stroke="#231f20" stroke-width="0.18">BM</text>
<line x1="445.10" y1="219.20" x2="460.80" y2="219.20" stroke="#1e3f7f" stroke-width="1.2" stroke-opacity="0.8"/>
<path d="M452.90 216.40L456.20 222.70L449.60 222.70Z" fill="#1e3f7f"/>
<text x="463.70" y="221.35" font-size="8.2" text-anchor="start" textLength="18.20" lengthAdjust="spacingAndGlyphs" stroke="#231f20" stroke-width="0.18">WTC</text>
<line x1="445.10" y1="230.50" x2="460.80" y2="230.50" stroke="#5dad38" stroke-width="1.2" stroke-opacity="0.8"/>
<circle cx="452.90" cy="230.50" r="3.3" fill="#5dad38"/>
<text x="463.70" y="232.75" font-size="8.2" text-anchor="start" textLength="42.40" lengthAdjust="spacingAndGlyphs" stroke="#231f20" stroke-width="0.18">MDSC-IL13</text>
<line x1="445.10" y1="241.10" x2="460.80" y2="241.10" stroke="#c5057b" stroke-width="1.2" stroke-opacity="0.8"/>
<circle cx="452.90" cy="241.10" r="3.4" fill="#fff" stroke="#c5057b" stroke-width="1.05"/>
<text x="463.70" y="244.35" font-size="8.2" text-anchor="start" textLength="31.10" lengthAdjust="spacingAndGlyphs" stroke="#231f20" stroke-width="0.18">AIM2 ko</text>
<text x="463.70" y="253.45" font-size="8.2" text-anchor="start" textLength="42.40" lengthAdjust="spacingAndGlyphs" stroke="#231f20" stroke-width="0.18">MDSC-IL13</text>
<line x1="445.10" y1="261.30" x2="460.80" y2="261.30" stroke="#69aae0" stroke-width="1.2" stroke-opacity="0.8"/>
<rect x="449.60" y="258.00" width="6.6" height="6.6" fill="#fff" stroke="#69aae0" stroke-width="1.05"/>
<text x="463.70" y="264.25" font-size="8.2" text-anchor="start" textLength="37.50" lengthAdjust="spacingAndGlyphs" stroke="#231f20" stroke-width="0.18">NLRC4 ko</text>
<text x="463.70" y="273.35" font-size="8.2" text-anchor="start" textLength="42.40" lengthAdjust="spacingAndGlyphs" stroke="#231f20" stroke-width="0.18">MDSC-IL13</text>
<line x1="280.80" y1="352.40" x2="280.80" y2="456.85" stroke="#1a1a1a" stroke-width="1.35"/>
<line x1="280.15" y1="456.20" x2="437.00" y2="456.20" stroke="#1a1a1a" stroke-width="1.3"/>
<line x1="277.60" y1="355.70" x2="280.80" y2="355.70" stroke="#1a1a1a" stroke-width="1.1"/>
<text x="274.60" y="359.05" font-size="9.5" text-anchor="end" textLength="13.80" lengthAdjust="spacingAndGlyphs" stroke="#231f20" stroke-width="0.18">100</text>
<line x1="279.00" y1="365.75" x2="280.80" y2="365.75" stroke="#1a1a1a" stroke-width="1.1"/>
<line x1="277.60" y1="375.80" x2="280.80" y2="375.80" stroke="#1a1a1a" stroke-width="1.1"/>
<text x="274.60" y="379.15" font-size="9.5" text-anchor="end" textLength="9.20" lengthAdjust="spacingAndGlyphs" stroke="#231f20" stroke-width="0.18">80</text>
<line x1="279.00" y1="385.85" x2="280.80" y2="385.85" stroke="#1a1a1a" stroke-width="1.1"/>
<line x1="277.60" y1="395.90" x2="280.80" y2="395.90" stroke="#1a1a1a" stroke-width="1.1"/>
<text x="274.60" y="399.25" font-size="9.5" text-anchor="end" textLength="9.20" lengthAdjust="spacingAndGlyphs" stroke="#231f20" stroke-width="0.18">60</text>
<line x1="279.00" y1="405.95" x2="280.80" y2="405.95" stroke="#1a1a1a" stroke-width="1.1"/>
<line x1="277.60" y1="416.00" x2="280.80" y2="416.00" stroke="#1a1a1a" stroke-width="1.1"/>
<text x="274.60" y="419.35" font-size="9.5" text-anchor="end" textLength="9.20" lengthAdjust="spacingAndGlyphs" stroke="#231f20" stroke-width="0.18">40</text>
<line x1="279.00" y1="426.05" x2="280.80" y2="426.05" stroke="#1a1a1a" stroke-width="1.1"/>
<line x1="277.60" y1="436.10" x2="280.80" y2="436.10" stroke="#1a1a1a" stroke-width="1.1"/>
<text x="274.60" y="439.45" font-size="9.5" text-anchor="end" textLength="9.20" lengthAdjust="spacingAndGlyphs" stroke="#231f20" stroke-width="0.18">20</text>
<line x1="279.00" y1="446.15" x2="280.80" y2="446.15" stroke="#1a1a1a" stroke-width="1.1"/>
<line x1="277.60" y1="456.20" x2="280.80" y2="456.20" stroke="#1a1a1a" stroke-width="1.1"/>
<text x="274.60" y="459.55" font-size="9.5" text-anchor="end" textLength="4.60" lengthAdjust="spacingAndGlyphs" stroke="#231f20" stroke-width="0.18">0</text>
<line x1="280.70" y1="456.20" x2="280.70" y2="459.20" stroke="#1a1a1a" stroke-width="1.1"/>
<text x="280.70" y="469.70" font-size="9.5" text-anchor="middle" textLength="4.60" lengthAdjust="spacingAndGlyphs" stroke="#231f20" stroke-width="0.18">0</text>
<line x1="331.70" y1="456.20" x2="331.70" y2="459.20" stroke="#1a1a1a" stroke-width="1.1"/>
<text x="331.70" y="469.70" font-size="9.5" text-anchor="middle" textLength="9.20" lengthAdjust="spacingAndGlyphs" stroke="#231f20" stroke-width="0.18">20</text>
<line x1="382.70" y1="456.20" x2="382.70" y2="459.20" stroke="#1a1a1a" stroke-width="1.1"/>
<text x="382.70" y="469.70" font-size="9.5" text-anchor="middle" textLength="9.20" lengthAdjust="spacingAndGlyphs" stroke="#231f20" stroke-width="0.18">40</text>
<line x1="433.70" y1="456.20" x2="433.70" y2="459.20" stroke="#1a1a1a" stroke-width="1.1"/>
<text x="433.70" y="469.70" font-size="9.5" text-anchor="middle" textLength="9.20" lengthAdjust="spacingAndGlyphs" stroke="#231f20" stroke-width="0.18">60</text>
<text x="255.00" y="405.30" font-size="10" text-anchor="middle" textLength="34.90" lengthAdjust="spacingAndGlyphs" transform="rotate(-90 255.00 405.30)" stroke="#231f20" stroke-width="0.18">% survival</text>
<text x="359.00" y="483.40" font-size="10" text-anchor="middle" textLength="13.10" lengthAdjust="spacingAndGlyphs" stroke="#231f20" stroke-width="0.18">Day</text>
<path d="M295.80 356.10H295.80V372.00H298.40V378.90H301.00V392.40H303.80V399.60H306.40V402.90H309.00V406.10H311.40V419.20H316.20V422.10H326.30V429.20H331.30V432.20H339.10V436.00H341.70V439.10H359.80V442.60H362.00V445.70H364.10V449.00H366.70V452.40H375.00V455.70" fill="none" stroke="#1e3f7f" stroke-width="1.1" stroke-opacity="0.85"/>
<path d="M295.80 369.20L299.10 375.50L292.50 375.50Z" fill="#1e3f7f"/>
<path d="M298.40 376.10L301.70 382.40L295.10 382.40Z" fill="#1e3f7f"/>
<path d="M301.00 389.60L304.30 395.90L297.70 395.90Z" fill="#1e3f7f"/>
<path d="M303.80 396.80L307.10 403.10L300.50 403.10Z" fill="#1e3f7f"/>
<path d="M306.40 400.10L309.70 406.40L303.10 406.40Z" fill="#1e3f7f"/>
<path d="M309.00 403.30L312.30 409.60L305.70 409.60Z" fill="#1e3f7f"/>
<path d="M311.40 416.40L314.70 422.70L308.10 422.70Z" fill="#1e3f7f"/>
<path d="M316.20 419.30L319.50 425.60L312.90 425.60Z" fill="#1e3f7f"/>
<path d="M326.30 426.40L329.60 432.70L323.00 432.70Z" fill="#1e3f7f"/>
<path d="M331.30 429.40L334.60 435.70L328.00 435.70Z" fill="#1e3f7f"/>
<path d="M339.10 433.20L342.40 439.50L335.80 439.50Z" fill="#1e3f7f"/>
<path d="M341.70 436.30L345.00 442.60L338.40 442.60Z" fill="#1e3f7f"/>
<path d="M359.80 439.80L363.10 446.10L356.50 446.10Z" fill="#1e3f7f"/>
<path d="M362.00 442.90L365.30 449.20L358.70 449.20Z" fill="#1e3f7f"/>
<path d="M364.10 446.20L367.40 452.50L360.80 452.50Z" fill="#1e3f7f"/>
<path d="M366.70 449.60L370.00 455.90L363.40 455.90Z" fill="#1e3f7f"/>
<path d="M375.00 452.90L378.30 459.20L371.70 459.20Z" fill="#1e3f7f"/>
<path d="M301.00 356.10H301.00V359.00H303.60V362.40H326.30V365.80H334.00V368.90H339.20V372.30H351.60V375.80H354.20V382.20H359.40V385.70H362.00V389.10H366.90V395.70H369.40V399.20H372.00V402.10H375.00V405.80H380.00V409.00H385.40V412.30H388.00V415.90H390.00V419.40H408.20V419.40" fill="none" stroke="#454d63" stroke-width="1.1" stroke-opacity="0.85"/>
<circle cx="301.00" cy="359.00" r="3.4" fill="#fff" stroke="#454d63" stroke-width="0.95"/>
<circle cx="303.60" cy="362.40" r="3.4" fill="#fff" stroke="#454d63" stroke-width="0.95"/>
<circle cx="326.30" cy="365.80" r="3.4" fill="#fff" stroke="#454d63" stroke-width="0.95"/>
<circle cx="334.00" cy="368.90" r="3.4" fill="#fff" stroke="#454d63" stroke-width="0.95"/>
<circle cx="339.20" cy="372.30" r="3.4" fill="#fff" stroke="#454d63" stroke-width="0.95"/>
<circle cx="351.60" cy="375.80" r="3.4" fill="#fff" stroke="#454d63" stroke-width="0.95"/>
<circle cx="354.20" cy="382.20" r="3.4" fill="#fff" stroke="#454d63" stroke-width="0.95"/>
<circle cx="359.40" cy="385.70" r="3.4" fill="#fff" stroke="#454d63" stroke-width="0.95"/>
<circle cx="362.00" cy="389.10" r="3.4" fill="#fff" stroke="#454d63" stroke-width="0.95"/>
<circle cx="366.90" cy="395.70" r="3.4" fill="#fff" stroke="#454d63" stroke-width="0.95"/>
<circle cx="369.40" cy="399.20" r="3.4" fill="#fff" stroke="#454d63" stroke-width="0.95"/>
<circle cx="372.00" cy="402.10" r="3.4" fill="#fff" stroke="#454d63" stroke-width="0.95"/>
<circle cx="375.00" cy="405.80" r="3.4" fill="#fff" stroke="#454d63" stroke-width="0.95"/>
<circle cx="380.00" cy="409.00" r="3.4" fill="#fff" stroke="#454d63" stroke-width="0.95"/>
<circle cx="385.40" cy="412.30" r="3.4" fill="#fff" stroke="#454d63" stroke-width="0.95"/>
<circle cx="388.00" cy="415.90" r="3.4" fill="#fff" stroke="#454d63" stroke-width="0.95"/>
<circle cx="390.00" cy="419.40" r="3.4" fill="#fff" stroke="#454d63" stroke-width="0.95"/>
<circle cx="408.20" cy="419.40" r="3.4" fill="#fff" stroke="#454d63" stroke-width="0.95"/>
<path d="M295.80 356.10H295.80V358.60H298.80V368.90H301.40V378.90H308.60V382.40H310.40V385.10H313.30V388.90H315.60V390.90H318.90V392.60H324.00V395.80H326.60V399.30H344.30V402.40H346.70V405.90H362.00V409.00H365.00V415.90H377.60V422.50H379.30V425.10H381.00V427.20H382.80V428.90H389.70V432.00H391.40V434.60H393.20V436.70H395.40V442.40H408.20V442.40" fill="none" stroke="#5dad38" stroke-width="1.1" stroke-opacity="0.85"/>
<circle cx="295.80" cy="358.60" r="3.3" fill="#5dad38"/>
<circle cx="298.80" cy="368.90" r="3.3" fill="#5dad38"/>
<circle cx="301.40" cy="378.90" r="3.3" fill="#5dad38"/>
<circle cx="308.60" cy="382.40" r="3.3" fill="#5dad38"/>
<circle cx="310.40" cy="385.10" r="3.3" fill="#5dad38"/>
<circle cx="313.30" cy="388.90" r="3.3" fill="#5dad38"/>
<circle cx="315.60" cy="390.90" r="3.3" fill="#5dad38"/>
<circle cx="318.90" cy="392.60" r="3.3" fill="#5dad38"/>
<circle cx="324.00" cy="395.80" r="3.3" fill="#5dad38"/>
<circle cx="326.60" cy="399.30" r="3.3" fill="#5dad38"/>
<circle cx="344.30" cy="402.40" r="3.3" fill="#5dad38"/>
<circle cx="346.70" cy="405.90" r="3.3" fill="#5dad38"/>
<circle cx="362.00" cy="409.00" r="3.3" fill="#5dad38"/>
<circle cx="365.00" cy="415.90" r="3.3" fill="#5dad38"/>
<circle cx="377.60" cy="422.50" r="3.3" fill="#5dad38"/>
<circle cx="379.30" cy="425.10" r="3.3" fill="#5dad38"/>
<circle cx="381.00" cy="427.20" r="3.3" fill="#5dad38"/>
<circle cx="382.80" cy="428.90" r="3.3" fill="#5dad38"/>
<circle cx="389.70" cy="432.00" r="3.3" fill="#5dad38"/>
<circle cx="391.40" cy="434.60" r="3.3" fill="#5dad38"/>
<circle cx="393.20" cy="436.70" r="3.3" fill="#5dad38"/>
<circle cx="395.40" cy="442.40" r="3.3" fill="#5dad38"/>
<circle cx="408.20" cy="442.40" r="3.3" fill="#5dad38"/>
<path d="M280.80 355.70H295.80V360.80H408.20V360.80" fill="none" stroke="#a3042f" stroke-width="1.1" stroke-opacity="0.85"/>
<rect x="292.55" y="357.55" width="6.5" height="6.5" fill="#a3042f"/>
<rect x="404.95" y="357.55" width="6.5" height="6.5" fill="#a3042f"/>
<line x1="440.00" y1="383.10" x2="455.70" y2="383.10" stroke="#a3042f" stroke-width="1.2" stroke-opacity="0.8"/>
<rect x="444.55" y="379.85" width="6.5" height="6.5" fill="#a3042f"/>
<text x="458.90" y="385.15" font-size="8.2" text-anchor="start" textLength="12.60" lengthAdjust="spacingAndGlyphs" stroke="#231f20" stroke-width="0.18">BM</text>
<line x1="440.00" y1="394.40" x2="455.70" y2="394.40" stroke="#1e3f7f" stroke-width="1.2" stroke-opacity="0.8"/>
<path d="M447.80 391.60L451.10 397.90L444.50 397.90Z" fill="#1e3f7f"/>
<text x="458.90" y="396.75" font-size="8.2" text-anchor="start" textLength="18.20" lengthAdjust="spacingAndGlyphs" stroke="#231f20" stroke-width="0.18">WTC</text>
<line x1="440.00" y1="404.80" x2="455.70" y2="404.80" stroke="#5dad38" stroke-width="1.2" stroke-opacity="0.8"/>
<circle cx="447.80" cy="404.80" r="3.3" fill="#5dad38"/>
<text x="458.90" y="407.45" font-size="8.2" text-anchor="start" textLength="42.40" lengthAdjust="spacingAndGlyphs" stroke="#231f20" stroke-width="0.18">MDSC-IL13</text>
<line x1="440.00" y1="415.40" x2="455.70" y2="415.40" stroke="#454d63" stroke-width="1.2" stroke-opacity="0.8"/>
<circle cx="447.80" cy="415.40" r="3.4" fill="#fff" stroke="#454d63" stroke-width="0.95"/>
<text x="458.90" y="418.15" font-size="8.2" text-anchor="start" textLength="36.30" lengthAdjust="spacingAndGlyphs" stroke="#231f20" stroke-width="0.18">NLRP3 ko</text>
<text x="458.90" y="428.15" font-size="8.2" text-anchor="start" textLength="42.40" lengthAdjust="spacingAndGlyphs" stroke="#231f20" stroke-width="0.18">MDSC-IL13</text>
<text x="7.00" y="17.10" font-size="11.6" text-anchor="start" font-weight="bold" textLength="9.00" lengthAdjust="spacingAndGlyphs" fill="#000" stroke="#000" stroke-width="0.5" stroke-linejoin="round">A</text>
<text x="238.50" y="17.25" font-size="11.6" text-anchor="start" font-weight="bold" fill="#000" stroke="#000" stroke-width="0.5" stroke-linejoin="round">B</text>
<text x="237.80" y="182.80" font-size="11.8" text-anchor="start" font-weight="bold" fill="#000" stroke="#000" stroke-width="0.5" stroke-linejoin="round">C</text>
<text x="237.80" y="348.30" font-size="11.6" text-anchor="start" font-weight="bold" fill="#000" stroke="#000" stroke-width="0.5" stroke-linejoin="round">D</text>
<rect x="0.5" y="0.5" width="519" height="492" fill="none" stroke="#000" stroke-width="1"/>
</svg>
</body>
</html>
